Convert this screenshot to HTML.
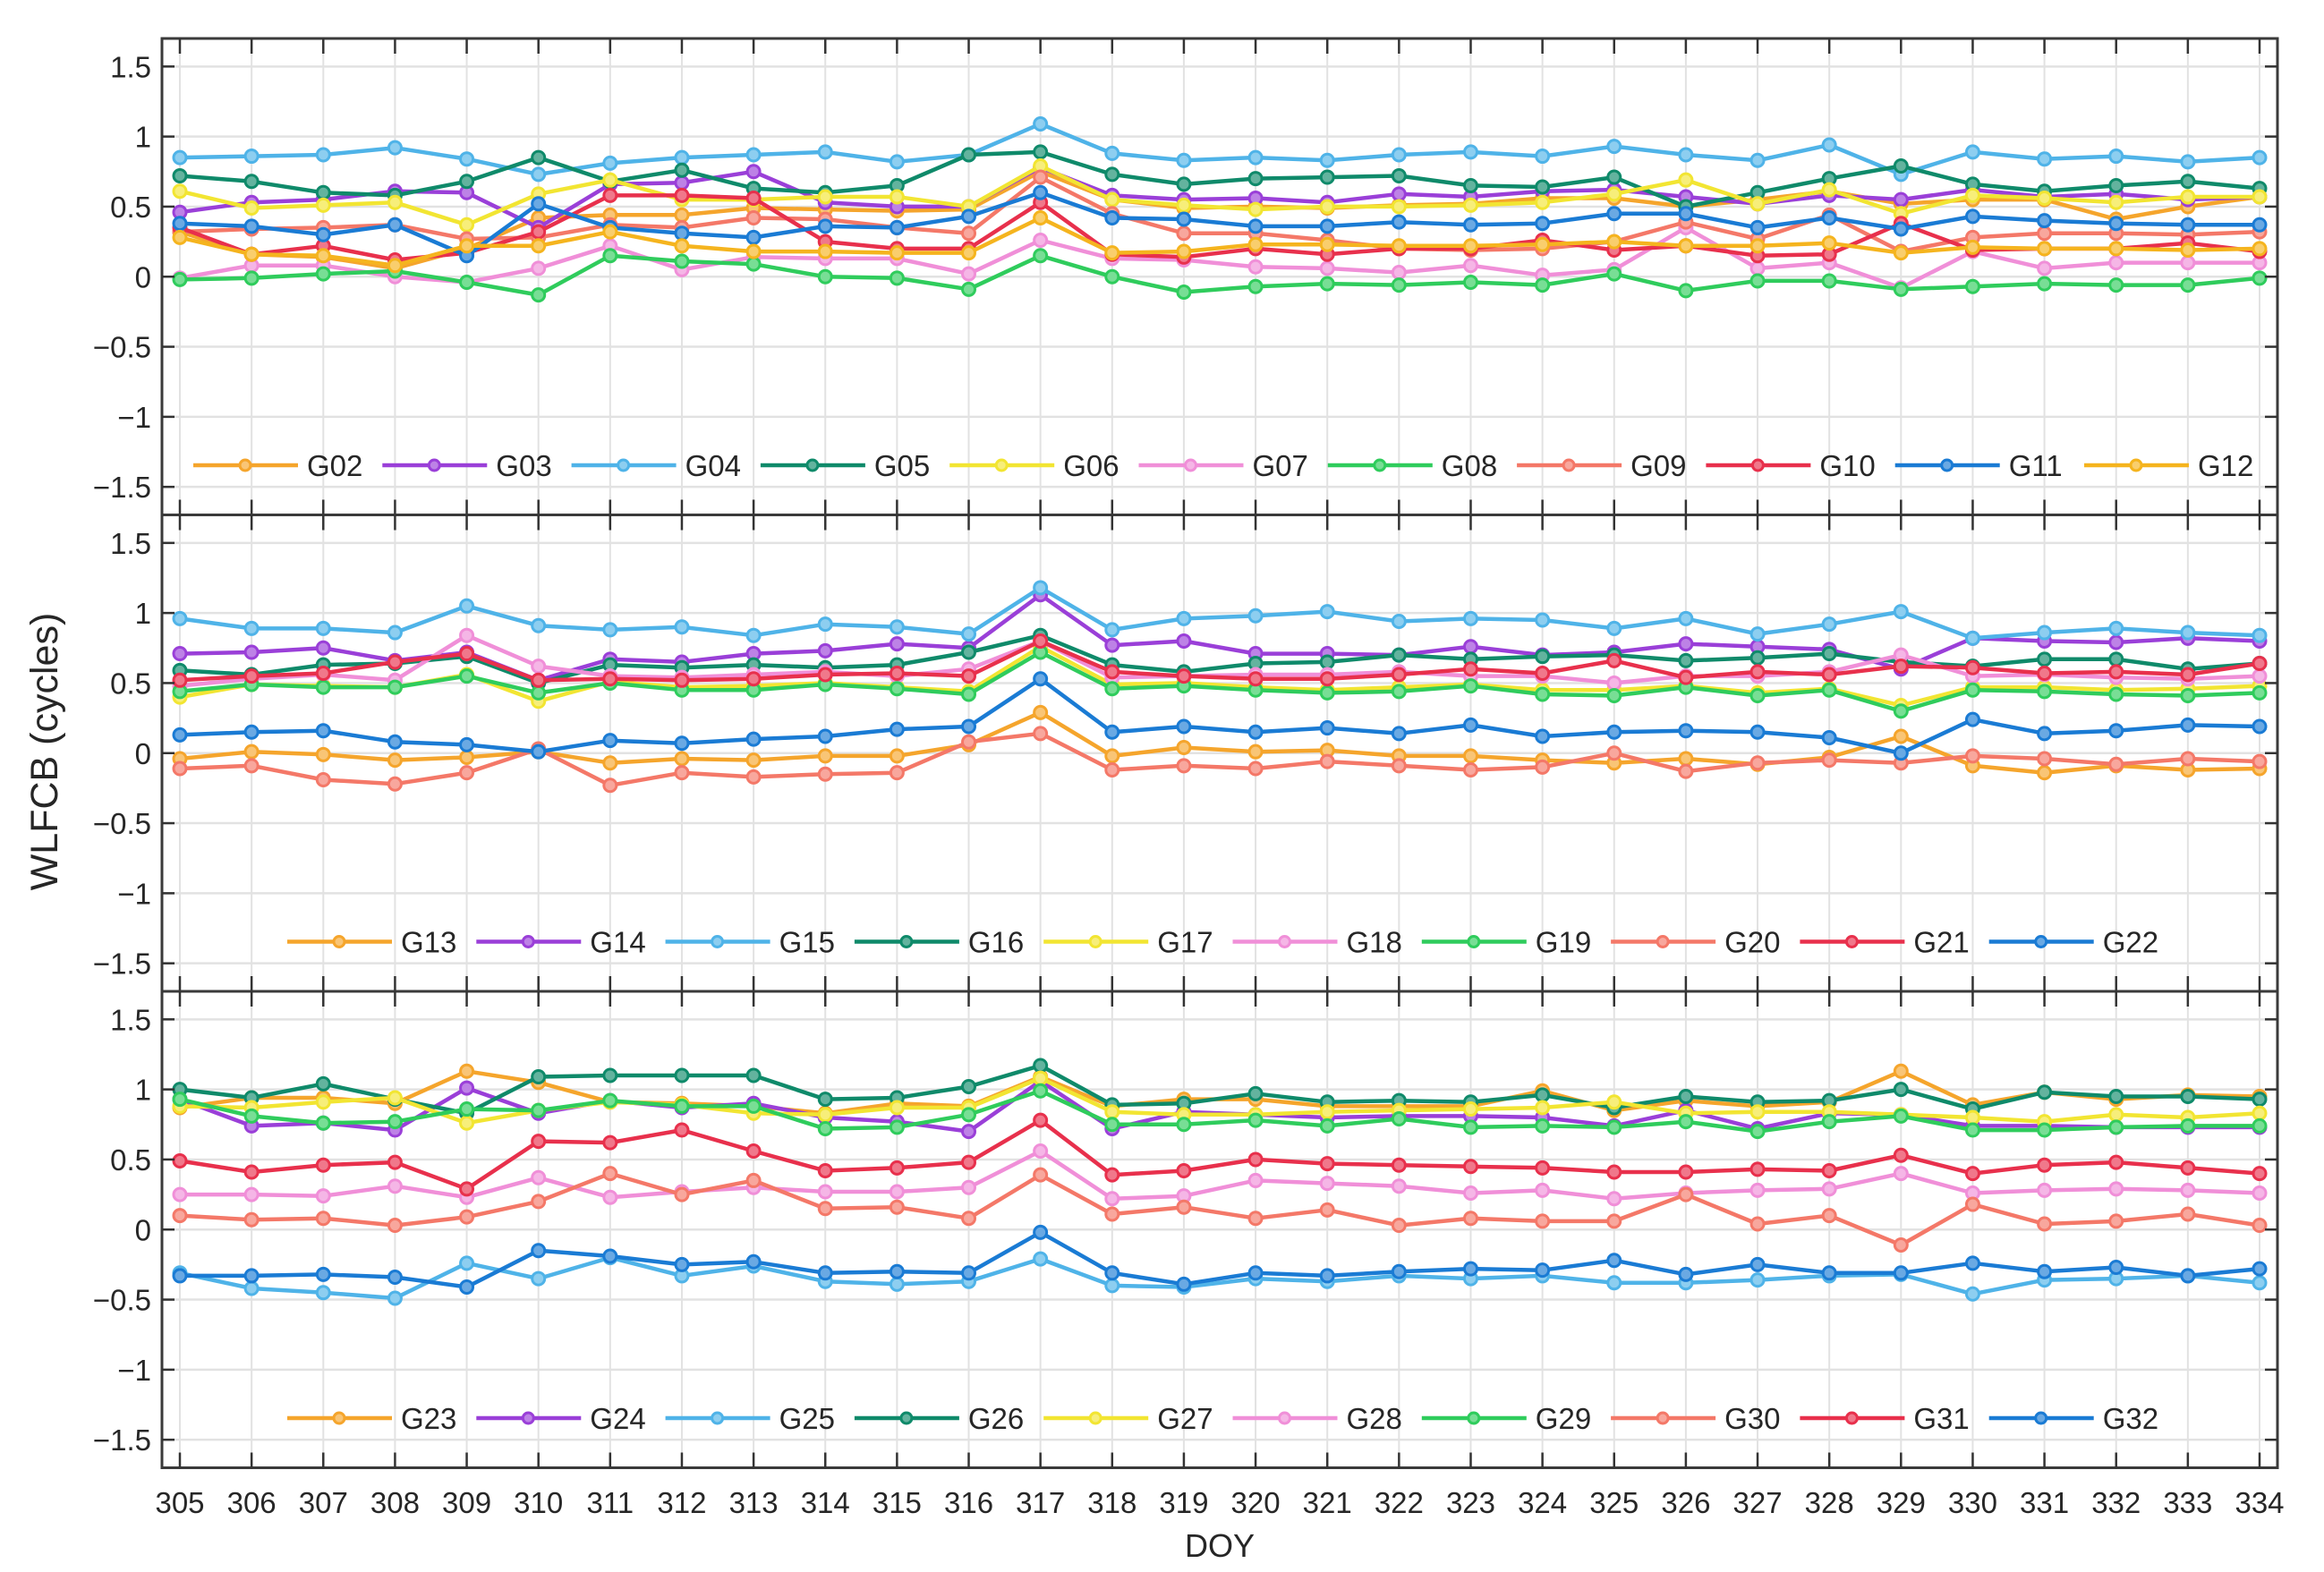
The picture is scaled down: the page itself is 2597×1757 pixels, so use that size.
<!DOCTYPE html>
<html><head><meta charset="utf-8"><style>
html,body{margin:0;padding:0;background:#fff;}
svg{display:block;font-family:"Liberation Sans",Arial,sans-serif;}
</style></head><body>
<svg id="chart" width="2597" height="1757" viewBox="0 0 2597 1757" xmlns="http://www.w3.org/2000/svg">
<text x="0" y="0" transform="translate(64,840) rotate(-90)" text-anchor="middle" font-size="43" fill="#262626">WLFCB (cycles)</text>
<text x="1363" y="1740" text-anchor="middle" font-size="36" fill="#262626">DOY</text>
</svg>
<script>
const days = [305,306,307,308,309,310,311,312,313,314,315,316,317,318,319,320,321,322,323,324,325,326,327,328,329,330,331,332,333,334];
const yTicks = [-1.5,-1,-0.5,0,0.5,1,1.5];
const yTickLabels = ["\u22121.5","\u22121","\u22120.5","0","0.5","1","1.5"];
const colors = ["#f5a52c","#9a3fd8","#4fb3e8","#0f8a6a","#f2e532","#f08fd8","#2fcc5c","#f47868","#e8304c","#1a7bd4","#f5b41e"];
const panel1Names = ["G02","G03","G04","G05","G06","G07","G08","G09","G10","G11","G12"];
const panel2Names = ["G13","G14","G15","G16","G17","G18","G19","G20","G21","G22"];
const panel3Names = ["G23","G24","G25","G26","G27","G28","G29","G30","G31","G32"];
const G02=[0.32,0.16,0.14,0.06,0.20,0.42,0.44,0.44,0.49,0.48,0.47,0.48,0.75,0.55,0.49,0.50,0.49,0.51,0.52,0.56,0.56,0.50,0.55,0.61,0.52,0.55,0.55,0.41,0.50,0.57];
const G03=[0.46,0.53,0.55,0.61,0.60,0.35,0.66,0.67,0.75,0.53,0.50,0.50,0.78,0.58,0.55,0.56,0.53,0.59,0.57,0.61,0.62,0.57,0.52,0.58,0.55,0.62,0.57,0.59,0.55,0.57];
const G04=[0.85,0.86,0.87,0.92,0.84,0.73,0.81,0.85,0.87,0.89,0.82,0.87,1.09,0.88,0.83,0.85,0.83,0.87,0.89,0.86,0.93,0.87,0.83,0.94,0.73,0.89,0.84,0.86,0.82,0.85];
const G05=[0.72,0.68,0.60,0.58,0.68,0.85,0.68,0.76,0.63,0.60,0.65,0.87,0.89,0.73,0.66,0.70,0.71,0.72,0.65,0.64,0.71,0.50,0.60,0.70,0.79,0.66,0.61,0.65,0.68,0.63];
const G06=[0.61,0.49,0.51,0.53,0.37,0.59,0.69,0.55,0.55,0.57,0.57,0.50,0.79,0.55,0.51,0.48,0.50,0.50,0.51,0.53,0.59,0.69,0.52,0.62,0.45,0.58,0.56,0.53,0.57,0.57];
const G07=[-0.01,0.08,0.08,0.00,-0.04,0.06,0.22,0.05,0.14,0.13,0.13,0.02,0.26,0.13,0.12,0.07,0.06,0.03,0.08,0.01,0.05,0.35,0.06,0.10,-0.08,0.18,0.06,0.10,0.10,0.10];
const G08=[-0.02,-0.01,0.02,0.04,-0.04,-0.13,0.15,0.11,0.09,0.00,-0.01,-0.09,0.15,0.00,-0.11,-0.07,-0.05,-0.06,-0.04,-0.06,0.02,-0.10,-0.03,-0.03,-0.09,-0.07,-0.05,-0.06,-0.06,-0.01];
const G09=[0.32,0.34,0.35,0.37,0.27,0.28,0.37,0.35,0.42,0.41,0.35,0.31,0.71,0.45,0.31,0.31,0.26,0.20,0.19,0.20,0.25,0.39,0.27,0.44,0.18,0.28,0.31,0.31,0.30,0.32];
const G10=[0.35,0.16,0.22,0.12,0.17,0.32,0.58,0.58,0.56,0.25,0.20,0.20,0.53,0.16,0.14,0.20,0.16,0.20,0.20,0.26,0.19,0.22,0.15,0.16,0.38,0.19,0.20,0.20,0.24,0.18];
const G11=[0.38,0.36,0.30,0.37,0.15,0.52,0.35,0.31,0.28,0.36,0.35,0.43,0.60,0.42,0.41,0.36,0.36,0.39,0.37,0.38,0.45,0.45,0.35,0.42,0.34,0.43,0.40,0.38,0.37,0.37];
const G12=[0.28,0.16,0.15,0.08,0.22,0.22,0.32,0.22,0.18,0.18,0.17,0.17,0.42,0.17,0.18,0.23,0.23,0.22,0.22,0.23,0.25,0.22,0.22,0.24,0.17,0.21,0.20,0.20,0.19,0.20];
const G13=[-0.04,0.01,-0.01,-0.05,-0.03,0.01,-0.07,-0.04,-0.05,-0.02,-0.02,0.06,0.29,-0.02,0.04,0.01,0.02,-0.02,-0.02,-0.05,-0.07,-0.04,-0.08,-0.03,0.12,-0.09,-0.14,-0.09,-0.12,-0.11];
const G14=[0.71,0.72,0.75,0.66,0.72,0.52,0.67,0.65,0.71,0.73,0.78,0.75,1.13,0.77,0.80,0.71,0.71,0.70,0.76,0.70,0.72,0.78,0.76,0.74,0.60,0.82,0.80,0.79,0.82,0.80];
const G15=[0.96,0.89,0.89,0.86,1.05,0.91,0.88,0.90,0.84,0.92,0.90,0.85,1.18,0.88,0.96,0.98,1.01,0.94,0.96,0.95,0.89,0.96,0.85,0.92,1.01,0.82,0.86,0.89,0.86,0.84];
const G16=[0.59,0.56,0.63,0.64,0.69,0.50,0.63,0.61,0.63,0.61,0.63,0.72,0.84,0.63,0.58,0.64,0.65,0.70,0.67,0.69,0.70,0.66,0.68,0.71,0.65,0.62,0.67,0.67,0.60,0.64];
const G17=[0.40,0.49,0.48,0.47,0.56,0.37,0.51,0.47,0.48,0.50,0.47,0.44,0.76,0.49,0.50,0.47,0.45,0.47,0.49,0.45,0.45,0.48,0.43,0.46,0.34,0.47,0.47,0.45,0.46,0.48];
const G18=[0.48,0.53,0.56,0.52,0.84,0.62,0.55,0.54,0.56,0.58,0.55,0.60,0.80,0.54,0.55,0.56,0.56,0.58,0.55,0.55,0.50,0.55,0.55,0.58,0.70,0.55,0.56,0.54,0.53,0.55];
const G19=[0.44,0.49,0.47,0.47,0.55,0.43,0.50,0.45,0.45,0.49,0.46,0.42,0.72,0.46,0.48,0.45,0.43,0.44,0.48,0.42,0.41,0.47,0.41,0.45,0.30,0.45,0.44,0.42,0.41,0.43];
const G20=[-0.11,-0.09,-0.19,-0.22,-0.14,0.03,-0.23,-0.14,-0.17,-0.15,-0.14,0.08,0.14,-0.12,-0.09,-0.11,-0.06,-0.09,-0.12,-0.10,0.00,-0.13,-0.07,-0.05,-0.07,-0.02,-0.04,-0.08,-0.04,-0.06];
const G21=[0.52,0.55,0.57,0.65,0.71,0.52,0.53,0.52,0.53,0.56,0.57,0.55,0.80,0.58,0.55,0.53,0.53,0.56,0.60,0.57,0.66,0.54,0.58,0.56,0.62,0.61,0.57,0.58,0.56,0.64];
const G22=[0.13,0.15,0.16,0.08,0.06,0.01,0.09,0.07,0.10,0.12,0.17,0.19,0.53,0.15,0.19,0.15,0.18,0.14,0.20,0.12,0.15,0.16,0.15,0.11,0.00,0.24,0.14,0.16,0.20,0.19];
const G23=[0.87,0.94,0.94,0.90,1.13,1.05,0.91,0.90,0.88,0.83,0.90,0.88,1.09,0.88,0.93,0.93,0.88,0.88,0.88,0.99,0.85,0.92,0.88,0.91,1.13,0.89,0.98,0.93,0.96,0.95];
const G24=[0.93,0.74,0.76,0.71,1.01,0.83,0.92,0.87,0.90,0.80,0.77,0.70,1.06,0.72,0.84,0.82,0.80,0.81,0.81,0.80,0.74,0.85,0.72,0.83,0.82,0.74,0.74,0.73,0.73,0.73];
const G25=[-0.31,-0.42,-0.45,-0.49,-0.24,-0.35,-0.20,-0.33,-0.26,-0.37,-0.39,-0.37,-0.21,-0.40,-0.41,-0.35,-0.37,-0.33,-0.35,-0.33,-0.38,-0.38,-0.36,-0.33,-0.32,-0.46,-0.36,-0.35,-0.33,-0.38];
const G26=[1.00,0.94,1.04,0.93,0.83,1.09,1.10,1.10,1.10,0.93,0.94,1.02,1.17,0.89,0.90,0.97,0.91,0.92,0.91,0.96,0.87,0.95,0.91,0.92,1.00,0.86,0.98,0.95,0.95,0.93];
const G27=[0.88,0.87,0.91,0.94,0.76,0.85,0.91,0.89,0.83,0.82,0.87,0.87,1.08,0.84,0.82,0.82,0.84,0.85,0.86,0.87,0.91,0.83,0.84,0.84,0.82,0.80,0.77,0.82,0.80,0.83];
const G28=[0.25,0.25,0.24,0.31,0.23,0.37,0.23,0.27,0.30,0.27,0.27,0.30,0.56,0.22,0.24,0.35,0.33,0.31,0.26,0.28,0.22,0.26,0.28,0.29,0.40,0.26,0.28,0.29,0.28,0.26];
const G29=[0.93,0.81,0.76,0.77,0.86,0.85,0.92,0.88,0.88,0.72,0.73,0.82,0.99,0.75,0.75,0.78,0.74,0.79,0.73,0.74,0.73,0.77,0.70,0.77,0.81,0.71,0.71,0.73,0.74,0.74];
const G30=[0.10,0.07,0.08,0.03,0.09,0.20,0.40,0.25,0.35,0.15,0.16,0.08,0.39,0.11,0.16,0.08,0.14,0.03,0.08,0.06,0.06,0.25,0.04,0.10,-0.11,0.18,0.04,0.06,0.11,0.03];
const G31=[0.49,0.41,0.46,0.48,0.29,0.63,0.62,0.71,0.56,0.42,0.44,0.48,0.78,0.39,0.42,0.50,0.47,0.46,0.45,0.44,0.41,0.41,0.43,0.42,0.53,0.40,0.46,0.48,0.44,0.40];
const G32=[-0.33,-0.33,-0.32,-0.34,-0.41,-0.15,-0.19,-0.25,-0.23,-0.31,-0.30,-0.31,-0.02,-0.31,-0.39,-0.31,-0.33,-0.30,-0.28,-0.29,-0.22,-0.32,-0.25,-0.31,-0.31,-0.24,-0.30,-0.27,-0.33,-0.28];
const panel1Data=[G02,G03,G04,G05,G06,G07,G08,G09,G10,G11,G12];
const panel2Data=[G13,G14,G15,G16,G17,G18,G19,G20,G21,G22];
const panel3Data=[G23,G24,G25,G26,G27,G28,G29,G30,G31,G32];

const NS="http://www.w3.org/2000/svg";
const svg=document.getElementById('chart');
const L=181,R=2545,PH=532.5,YMIN=-1.7,YMAX=1.7;
const panelTops=[43,575.5,1108];
function xs(d){return 201+(d-305)*(2525-201)/29;}
function mk(tag,attrs,parent){const e=document.createElementNS(NS,tag);for(const k in attrs)e.setAttribute(k,attrs[k]);(parent||svg).appendChild(e);return e;}
function lighten(c){const n=parseInt(c.slice(1),16);let r=n>>16,g=(n>>8)&255,b=n&255;r=Math.round(r+(255-r)*0.35);g=Math.round(g+(255-g)*0.35);b=Math.round(b+(255-b)*0.35);return `rgb(${r},${g},${b})`;}

const panels=[[panel1Names,panel1Data,216],[panel2Names,panel2Data,321],[panel3Names,panel3Data,321]];
panels.forEach((p,pi)=>{
  const top=panelTops[pi],bot=top+PH;
  const ys=v=>top+(YMAX-v)/(YMAX-YMIN)*PH;
  const g=mk('g',{});
  
  
  days.forEach(d=>{const l=mk('line',{x1:xs(d),x2:xs(d),y1:top,y2:bot,stroke:'#e2e2e2','stroke-width':2},g);
    });
  yTicks.forEach(v=>{const l=mk('line',{x1:L,x2:R,y1:ys(v),y2:ys(v),stroke:'#e2e2e2','stroke-width':2.5},g);
    });
  p[1].forEach((arr,si)=>{
    const c=colors[si];
    const sg=mk('g',{},g);
    
    
    const pts=arr.map((v,i)=>xs(days[i]).toFixed(1)+','+ys(v).toFixed(1)).join(' ');
    const pl=mk('polyline',{points:pts,fill:'none',stroke:c,'stroke-width':4.5,'stroke-linejoin':'round'},sg);
    
    arr.forEach((v,i)=>{const m=mk('circle',{cx:xs(days[i]),cy:ys(v),r:7,fill:lighten(c),stroke:c,'stroke-width':3},sg);
      });
  });
  p[0].forEach((nm,si)=>{
    const x0=p[2]+si*211.3,yy=top+477;
    const lg=mk('g',{},g);
    
    
    mk('line',{x1:x0,x2:x0+117,y1:yy,y2:yy,stroke:colors[si],'stroke-width':4.5},lg);
    mk('circle',{cx:x0+58,cy:yy,r:6,fill:lighten(colors[si]),stroke:colors[si],'stroke-width':3},lg);
    const t=mk('text',{x:x0+127,y:yy+12,'font-size':33,fill:'#262626'},lg);t.textContent=nm;
  });
  const box=mk('rect',{x:L,y:top,width:R-L,height:PH,fill:'none',stroke:'#3a3a3a','stroke-width':3},g);
  
  days.forEach(d=>{mk('line',{x1:xs(d),x2:xs(d),y1:top,y2:top+17,stroke:'#333','stroke-width':2.5},g);
    mk('line',{x1:xs(d),x2:xs(d),y1:bot,y2:bot-17,stroke:'#333','stroke-width':2.5},g);});
  yTicks.forEach((v,i)=>{mk('line',{x1:L,x2:L+14,y1:ys(v),y2:ys(v),stroke:'#333','stroke-width':2.5},g);
    mk('line',{x1:R,x2:R-14,y1:ys(v),y2:ys(v),stroke:'#333','stroke-width':2.5},g);
    const t=mk('text',{x:L-12,y:ys(v)+12,'text-anchor':'end','font-size':33,fill:'#262626'},g);
    
    t.textContent=yTickLabels[i];});
});
days.forEach(d=>{const t=mk('text',{x:xs(d),y:1691,'text-anchor':'middle','font-size':33,fill:'#262626'});
  t.textContent=d;});
</script>
</body></html>
